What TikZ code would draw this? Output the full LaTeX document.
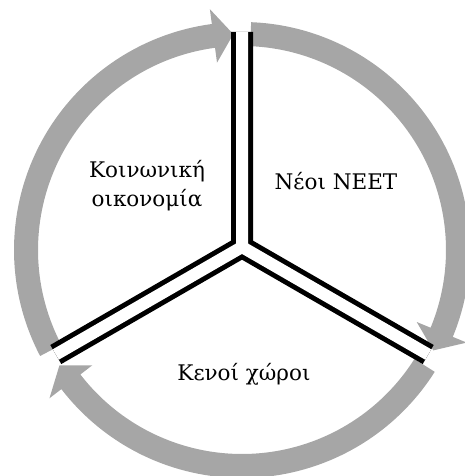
\documentclass[tikz,border=0pt]{standalone}
\usepackage{fontspec}
\setmainfont{DejaVu Serif}
\definecolor{ringgray}{RGB}{166,166,166}

\begin{document}
\begin{tikzpicture}[x=1pt,y=1pt,
    lbl/.style={font=\fontsize{21.5}{29}\selectfont, inner sep=0pt},
    divider/.style={draw=black, line width=5pt, double=white, double distance=12pt}]

        % 画布范围
        \useasboundingbox (-242,-226) rectangle (223,250);

        % 绘制三段灰色圆弧箭头
        \fill[ringgray] (207.7:228pt) arc[start angle=207.7, end angle=97.6, radius=228pt]
            -- (97.6:243pt) -- (92.3:216pt) -- (97.6:189pt) -- (97.6:204pt)
            arc[start angle=97.6, end angle=207.7, radius=204pt] -- cycle; % 左弧
        \fill[ringgray] (87.7:228pt) arc[start angle=87.7, end angle=-22.4, radius=228pt]
            -- (-22.4:243pt) -- (-27.7:216pt) -- (-22.4:189pt) -- (-22.4:204pt)
            arc[start angle=-22.4, end angle=87.7, radius=204pt] -- cycle; % 右弧
        \fill[ringgray] (-32.3:228pt) arc[start angle=-32.3, end angle=-142.4, radius=228pt]
            -- (-142.4:243pt) -- (-147.7:216pt) -- (-142.4:189pt) -- (-142.4:204pt)
            arc[start angle=-142.4, end angle=-32.3, radius=204pt] -- cycle; % 下弧

        % 中心点与三条分隔线的端点
        \coordinate (mid) at (0,3);
        \coordinate (endtop) at (0,218);
        \coordinate (endright) at (186.2,-104.5);
        \coordinate (endleft) at (-186.2,-104.5);

        % 绘制双线分隔
        \draw[divider] (mid) -- (endtop) (mid) -- (endright) (mid) -- (endleft);

        % 标签
        \node[lbl, anchor=base, align=center] (social) at (-95,43) {Κοινωνική\\οικονομία};
        \node[lbl, anchor=base] (neet) at (94,60) {Νέοι NEET};
        \node[lbl, anchor=base] (spaces) at (2,-130) {Κενοί χώροι};

    \end{tikzpicture}
\end{document}
